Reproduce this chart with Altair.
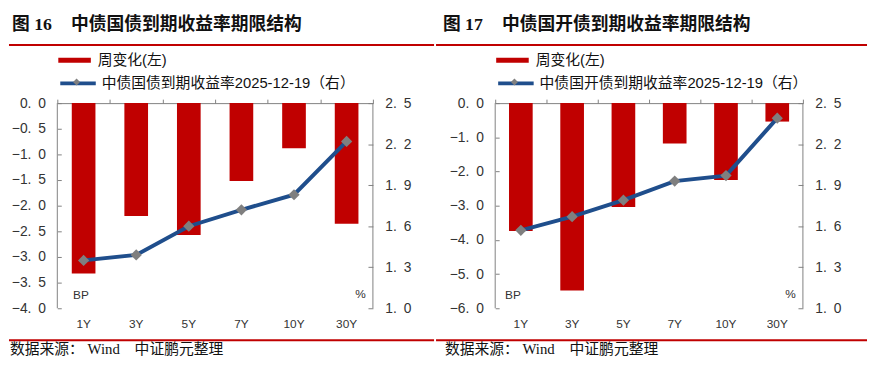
import altair as alt
import pandas as pd

# ---------------- data ----------------
terms = ["1Y", "3Y", "5Y", "7Y", "10Y", "30Y"]
gz_change = [-3.32, -2.20, -2.57, -1.52, -0.88, -2.35]
gz_yield = [1.35, 1.39, 1.60, 1.72, 1.83, 2.22]
gk_change = [-3.74, -5.48, -3.04, -1.18, -2.25, -0.54]
gk_yield = [1.57, 1.67, 1.79, 1.93, 1.97, 2.39]
gz_left_ticks = [0, -0.5, -1.0, -1.5, -2.0, -2.5, -3.0, -3.5, -4.0]
gk_left_ticks = [0, -1.0, -2.0, -3.0, -4.0, -5.0, -6.0]
right_ticks = [1.0, 1.3, 1.6, 1.9, 2.2, 2.5]

bar_name = "周变化(左)"
gz_line_name = "中债国债到期收益率2025-12-19（右）"
gk_line_name = "中债国开债到期收益率2025-12-19（右）"
gz_title = ("图 16", "中债国债到期收益率期限结构")
gk_title = ("图 17", "中债国开债到期收益率期限结构")
source = "数据来源：\u00a0Wind\u00a0\u00a0\u00a0\u00a0中证鹏元整理"

RED = "#C00000"
BLUE = "#1F4E8C"
GREY = "#7F7F7F"
AXIS = "#808080"
TXT = "#333333"
CJK = "Noto Sans CJK SC"
SANS = "Liberation Sans, Arial, Noto Sans CJK SC"
NARROW = "Liberation Sans Narrow, Liberation Sans, Arial"
SERIF = "Liberation Serif, Times New Roman, Noto Sans CJK SC"

H = 208
LBL = "replace(format(datum.value, '.1f'), '.', '.\u2002')"


def one():
    return alt.Data(values=[{"k": 0}])


def panel(title, line_name, change, yld, lticks, W, x_lo, x_hi, t1x, t2x, srcx, bpx, pctx):
    df = pd.DataFrame({"term": terms, "change": change, "yld": yld,
                       "bar": bar_name, "line": line_name, "mk": " "})
    xsc = alt.Scale(domain=terms, paddingInner=0, paddingOuter=0)
    ysc_r = alt.Scale(domain=[1.0, 2.5], nice=False, zero=False)
    base = alt.Chart(df)

    bars = base.mark_bar(size=24).encode(
        x=alt.X("term:N", scale=xsc, sort=terms, title=None,
                axis=alt.Axis(orient="top", labels=False, domain=True, domainColor=AXIS,
                              ticks=True, tickBand="extent", tickSize=4, tickColor=AXIS,
                              grid=False)),
        y=alt.Y("change:Q", scale=alt.Scale(domain=[lticks[-1], 0], nice=False, zero=False),
                title=None,
                axis=alt.Axis(orient="left", values=lticks, offset=-4, domain=False,
                              tickSize=4, tickColor=AXIS, labelPadding=12, labelExpr=LBL,
                              labelFont=SANS, labelFontSize=14, labelColor=TXT, grid=False)),
        fill=alt.Fill("bar:N", scale=alt.Scale(domain=[bar_name], range=[RED]),
                      legend=alt.Legend(orient="none", legendX=1, legendY=-60, title=None,
                                        symbolType="M-1,-0.15L1,-0.15L1,0.15L-1,0.15Z",
                                        symbolSize=1089, symbolStrokeWidth=0,
                                        symbolFillColor=RED, labelOffset=7, padding=0,
                                        labelLimit=0,
                                        labelFont=SANS, labelFontSize=15, labelColor="#111")),
    )

    line = base.mark_line(strokeWidth=4).encode(
        x=alt.X("term:N", scale=xsc, sort=terms, title=None,
                axis=alt.Axis(orient="bottom", domain=False, ticks=False, labelPadding=11,
                              labelFont=NARROW, labelFontSize=12, labelColor=TXT,
                              labelAngle=0, grid=False)),
        y=alt.Y("yld:Q", scale=ysc_r, title=None,
                axis=alt.Axis(orient="right", values=right_ticks, offset=-5, domain=False,
                              tickSize=5, tickColor=AXIS, labelPadding=12, labelExpr=LBL,
                              labelFont=SANS, labelFontSize=14, labelColor=TXT, grid=False)),
        stroke=alt.Stroke("line:N", scale=alt.Scale(domain=[line_name], range=[BLUE]),
                          legend=alt.Legend(orient="none", legendX=1, legendY=-40, title=None,
                                            symbolType="M-1,0L1,0", symbolSize=1296,
                                            symbolStrokeWidth=4, symbolStrokeColor=BLUE,
                                            labelOffset=4, padding=0, labelLimit=0,
                                            labelFont=SANS, labelFontSize=15, labelColor="#111")),
    )

    pts = base.mark_point(filled=True, size=130, color=GREY, opacity=1).encode(
        x=alt.X("term:N", scale=xsc, sort=terms, axis=None),
        y=alt.Y("yld:Q", scale=ysc_r, axis=None),
        shape=alt.Shape("mk:N", scale=alt.Scale(domain=[" "], range=["diamond"]),
                        legend=alt.Legend(orient="none", legendX=15.5, legendY=-25.5, title=None,
                                          symbolSize=50, symbolFillColor=GREY,
                                          symbolStrokeWidth=0, labelExpr="''",
                                          labelFontSize=1, padding=0)),
    )

    d = alt.Chart(one())
    rule = d.mark_rule(color=RED, strokeWidth=2, strokeCap="square")
    top_line = rule.encode(x=alt.value(x_lo), x2=alt.value(x_hi), y=alt.value(-59))
    bot_line = rule.encode(x=alt.value(x_lo), x2=alt.value(x_hi), y=alt.value(240.5))
    anchor = d.mark_rule(opacity=0, strokeWidth=1).encode(
        x=alt.value(x_lo), y=alt.value(-94), y2=alt.value(-93))
    ax_l = d.mark_rule(color=AXIS, strokeWidth=1).encode(
        x=alt.value(0), y=alt.value(0), y2=alt.value(H))
    ax_r = d.mark_rule(color=AXIS, strokeWidth=1).encode(
        x=alt.value(W), y=alt.value(0), y2=alt.value(H))

    t1 = d.mark_text(align="left", baseline="middle", font=SERIF, fontSize=18,
                     fontWeight="bold", color="#111").encode(
        x=alt.value(t1x), y=alt.value(-79), text=alt.value(title[0]))
    t2 = d.mark_text(align="left", baseline="middle", font=CJK, fontSize=18,
                     fontWeight="bold", color="#111").encode(
        x=alt.value(t2x), y=alt.value(-79), text=alt.value(title[1]))
    src = d.mark_text(align="left", baseline="middle", font=SERIF, fontSize=15,
                      color="#111").encode(
        x=alt.value(srcx), y=alt.value(249), text=alt.value(source))
    bp = d.mark_text(align="left", baseline="middle", font=SANS, fontSize=12,
                     color=TXT).encode(x=alt.value(bpx), y=alt.value(195), text=alt.value("BP"))
    pct = d.mark_text(align="left", baseline="middle", font=SANS, fontSize=12,
                      color=TXT).encode(x=alt.value(pctx), y=alt.value(194), text=alt.value("%"))

    return alt.layer(
        bars, line, pts, ax_l, ax_r, top_line, bot_line, anchor, t1, t2, src, bp, pct
    ).resolve_scale(y="independent").resolve_axis(x="independent").properties(
        width=W, height=H)


left = panel(gz_title, gz_line_name, gz_change, gz_yield, gz_left_ticks, 320,
             -48, 381, -46, 14, -48, 16, 302)
right = panel(gk_title, gk_line_name, gk_change, gk_yield, gk_left_ticks, 312,
              -59, 376, -53, 7, -51, 10, 294)

chart = alt.hconcat(left, right, spacing=0).resolve_scale(
    fill="independent", stroke="independent", shape="independent"
).resolve_legend(
    fill="independent", stroke="independent", shape="independent"
).properties(padding=0, background="white").configure_view(stroke=None)

chart.save("out.html", embed_options={"renderer": "svg", "actions": False})
